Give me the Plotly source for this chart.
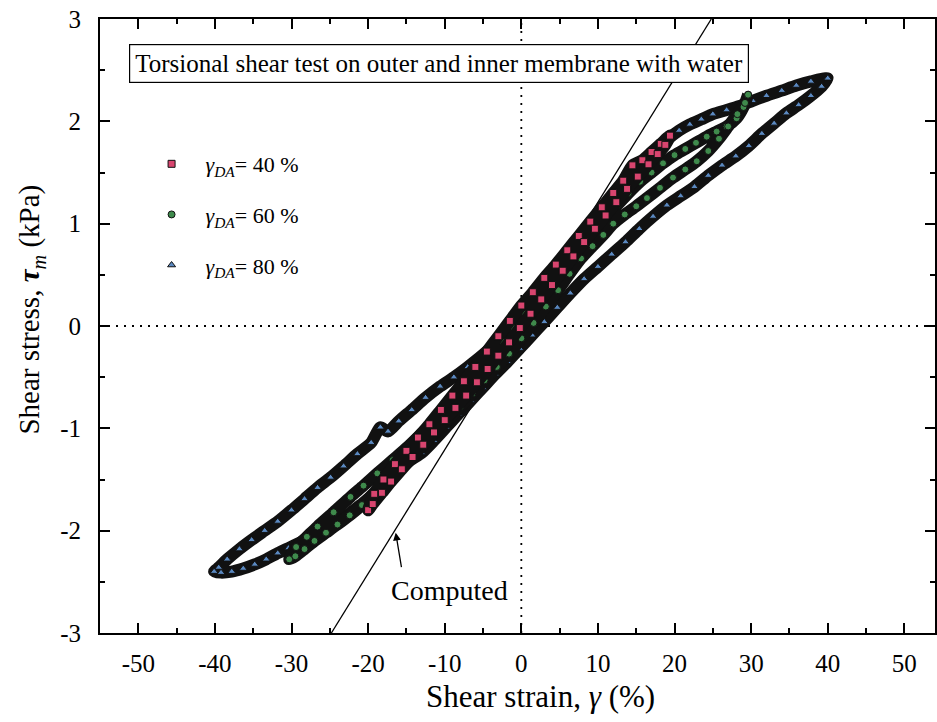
import plotly.graph_objects as go

# ---------------- data ----------------
strain_80 = [40.0, 37.8, 35.9, 34.0, 32.0, 30.2, 28.5, 26.8, 25.0, 23.5, 22.0, 20.6, 19.2, 17.6, 16.0, 14.5,
             12.8, 11.0, 9.2, 7.4, 5.6, 3.8, 2.0, 0.3, -1.4, -3.2, -5.0, -7.0, -8.8, -10.6, -12.5, -14.3,
             -16.0, -17.4, -18.4, -19.6, -21.4, -23.2, -24.9, -26.6, -28.3, -30.0, -31.8, -33.5, -35.2,
             -36.8, -38.4, -39.5, -40.1,
             -39.2, -37.8, -36.3, -34.8, -33.3, -31.8, -30.4, -29.0, -27.4, -25.8, -24.2, -22.6, -21.0,
             -19.4, -17.8, -16.2, -14.6, -13.0, -11.4, -9.8, -8.2, -6.6, -5.0, -3.4, -1.8, -0.2, 1.4, 3.0,
             4.7, 6.4, 8.2, 10.0, 11.8, 13.6, 15.4, 17.2, 19.0, 20.8, 22.6, 24.4, 26.2, 28.0, 29.7, 31.4,
             33.0, 34.6, 36.2, 37.8, 39.2, 40.0]
stress_80 = [2.42, 2.39, 2.35, 2.30, 2.25, 2.20, 2.15, 2.11, 2.07, 2.02, 1.97, 1.91, 1.83, 1.72, 1.60, 1.47,
             1.30, 1.12, 0.95, 0.77, 0.59, 0.42, 0.26, 0.12, -0.03, -0.16, -0.28, -0.40, -0.50, -0.59, -0.70,
             -0.82, -0.93, -1.03, -0.99, -1.14, -1.25, -1.37, -1.48, -1.58, -1.69, -1.80, -1.91, -2.00, -2.09,
             -2.18, -2.28, -2.36, -2.40,
             -2.41, -2.40, -2.37, -2.33, -2.28, -2.22, -2.17, -2.12, -2.06, -1.99, -1.92, -1.84, -1.75,
             -1.65, -1.55, -1.43, -1.32, -1.24, -1.12, -0.99, -0.86, -0.73, -0.60, -0.47, -0.35, -0.22, -0.09,
             0.04, 0.18, 0.32, 0.46, 0.58, 0.70, 0.82, 0.95, 1.07, 1.18, 1.27, 1.36, 1.47, 1.57, 1.66, 1.76,
             1.88, 1.98, 2.08, 2.16, 2.25, 2.34, 2.42]

strain_60 = [29.6, 29.0, 28.1, 26.8, 25.5, 24.2, 22.8, 21.4, 20.0, 18.5, 17.0, 15.5, 14.0, 12.5, 11.0, 9.5,
             8.0, 6.5, 5.0, 3.5, 2.0, 0.5, -1.0, -2.5, -4.0, -5.5, -7.0, -8.8, -10.5, -12.6, -14.8, -16.8,
             -18.8, -20.6, -22.3, -24.5, -26.6, -28.0, -29.4, -30.3,
             -29.5, -28.3, -27.0, -25.5, -24.0, -22.4, -20.8, -19.2, -17.6, -16.0, -14.4, -12.8, -11.2,
             -9.6, -8.0, -6.4, -4.8, -3.2, -1.6, 0.0, 1.6, 3.2, 4.8, 6.3, 7.8, 9.3, 10.7, 12.0, 13.5, 15.0,
             16.4, 18.1, 19.8, 21.4, 22.9, 24.4, 25.8, 27.0, 28.2, 29.2, 29.6]
stress_60 = [2.26, 2.14, 2.03, 1.95, 1.90, 1.85, 1.79, 1.73, 1.67, 1.59, 1.50, 1.41, 1.30, 1.18, 1.06, 0.94,
             0.82, 0.69, 0.55, 0.41, 0.27, 0.12, -0.02, -0.15, -0.28, -0.41, -0.55, -0.72, -0.87, -1.02, -1.18,
             -1.31, -1.44, -1.56, -1.67, -1.82, -1.96, -2.06, -2.16, -2.28,
             -2.25, -2.18, -2.10, -2.02, -1.94, -1.85, -1.75, -1.63, -1.52, -1.40, -1.28, -1.16, -1.04,
             -0.92, -0.79, -0.66, -0.53, -0.40, -0.27, -0.12, 0.03, 0.19, 0.35, 0.51, 0.66, 0.78, 0.89, 1.00,
             1.09, 1.17, 1.25, 1.35, 1.45, 1.53, 1.61, 1.71, 1.83, 1.95, 2.07, 2.18, 2.26]

strain_40 = [19.4, 18.2, 17.0, 15.8, 14.5, 13.3, 12.0, 10.5, 9.0, 7.5, 6.0, 4.5, 3.0, 1.5, 0.0, -1.5, -3.0,
             -4.5, -6.0, -7.5, -9.0, -10.5, -12.0, -13.5, -15.0, -16.5, -18.0, -19.2, -20.0,
             -19.4, -18.2, -17.0, -15.6, -14.2, -12.8, -11.4, -10.0, -8.6, -7.2, -5.8, -4.4, -3.0, -1.6,
             -0.2, 1.2, 2.6, 4.0, 5.4, 6.8, 8.2, 9.6, 11.0, 12.4, 13.8, 15.2, 16.6, 17.8, 18.8, 19.4]
stress_40 = [1.86, 1.78, 1.70, 1.62, 1.57, 1.42, 1.30, 1.16, 1.02, 0.88, 0.74, 0.60, 0.47, 0.33, 0.20, 0.05,
             -0.10, -0.25, -0.40, -0.54, -0.68, -0.82, -0.96, -1.09, -1.22, -1.35, -1.50, -1.64, -1.80,
             -1.74, -1.63, -1.52, -1.40, -1.28, -1.16, -1.04, -0.92, -0.80, -0.68, -0.55, -0.42, -0.29, -0.16,
             -0.02, 0.12, 0.26, 0.40, 0.54, 0.68, 0.82, 0.95, 1.08, 1.21, 1.34, 1.46, 1.58, 1.68, 1.77, 1.86]

computed_strain = [-24.8, 24.8]
computed_stress = [-3.0, 3.0]

series_names = ["<i>γ</i><sub><i>DA</i></sub>= 40 %",
                "<i>γ</i><sub><i>DA</i></sub>= 60 %",
                "<i>γ</i><sub><i>DA</i></sub>= 80 %"]

x_tick_vals = [-50, -40, -30, -20, -10, 0, 10, 20, 30, 40, 50]
x_tick_text = ["-50", "-40", "-30", "-20", "-10", "0", "10", "20", "30", "40", "50"]
x_minor_vals = [-45, -35, -25, -15, -5, 5, 15, 25, 35, 45]
y_tick_vals = [-3, -2, -1, 0, 1, 2, 3]
y_tick_text = ["-3", "-2", "-1", "0", "1", "2", "3"]
y_minor_vals = [-2.5, -1.5, -0.5, 0.5, 1.5, 2.5]

# ---------------- styles ----------------
FONT = "Liberation Serif, Times New Roman, serif"
styles = {
    80: dict(color="#5a88c0", symbol="triangle-up"),
    60: dict(color="#3f8a4c", symbol="circle"),
    40: dict(color="#d8456f", symbol="square"),
}

fig = go.Figure()

# computed line (under the loops)
fig.add_trace(go.Scatter(x=computed_strain, y=computed_stress, mode="lines",
                         line=dict(color="black", width=1.3), showlegend=False,
                         hoverinfo="skip"))

# zero reference lines
fig.add_shape(type="line", xref="x", yref="paper", x0=0, x1=0, y0=0, y1=1,
              line=dict(color="black", width=1.8, dash="2px,6px"), layer="below")
fig.add_shape(type="line", xref="paper", yref="y", x0=0, x1=1, y0=0, y1=0,
              line=dict(color="black", width=1.8, dash="2px,6px"), layer="below")

data = [(80, strain_80, stress_80, series_names[2], 3),
        (60, strain_60, stress_60, series_names[1], 2),
        (40, strain_40, stress_40, series_names[0], 1)]

for key, xs, ys, name, rank in data:
    st = styles[key]
    fig.add_trace(go.Scatter(x=xs, y=ys, mode="lines", legendgroup="g%d" % key,
                             line=dict(color="#111111", width=12, shape="spline", smoothing=0.6),
                             showlegend=False, hoverinfo="skip"))
    fig.add_trace(go.Scatter(x=xs, y=ys, mode="markers", name=name, legendrank=rank,
                             legendgroup="g%d" % key,
                             marker=dict(color=st["color"], symbol=st["symbol"], size=7,
                                         line=dict(color="#111111", width=1))))

axis_common = dict(showgrid=False, zeroline=False, showline=True, linecolor="black",
                   linewidth=2, mirror="ticks", ticks="inside", ticklen=10, tickwidth=1.6,
                   tickcolor="black", tickfont=dict(family=FONT, size=25, color="black"))

fig.update_xaxes(range=[-55, 54.0], tickmode="array", tickvals=x_tick_vals, ticktext=x_tick_text,
                 minor=dict(tickmode="array", tickvals=x_minor_vals, ticks="inside", ticklen=5,
                            tickwidth=1.6, tickcolor="black"),
                 ticklabelstandoff=7, **axis_common)
fig.update_yaxes(range=[-3, 3], tickmode="array", tickvals=y_tick_vals, ticktext=y_tick_text,
                 minor=dict(tickmode="array", tickvals=y_minor_vals, ticks="inside", ticklen=5,
                            tickwidth=1.6, tickcolor="black"),
                 ticklabelstandoff=12, **axis_common)

annotations = [
    dict(text="Torsional shear test on outer and inner membrane with water", xref="paper", yref="paper",
         x=0.406, y=0.928, xanchor="center", yanchor="middle", showarrow=False,
         font=dict(family=FONT, size=25, color="black"), bordercolor="black", borderwidth=1.2,
         borderpad=5, bgcolor="white"),
    dict(text="Computed", xref="paper", yref="paper", x=0.418, y=0.070, xanchor="center",
         yanchor="middle", showarrow=False, font=dict(family=FONT, size=28, color="black")),
    dict(text="", x=-16.4, y=-2.02, xref="x", yref="y", showarrow=True, ax=6, ay=36,
         arrowhead=2, arrowsize=1.2, arrowwidth=1.3, arrowcolor="black"),
    dict(text="Shear strain, <i>γ</i> (%)", xref="paper", yref="paper", x=0.528, y=-0.104,
         xanchor="center", yanchor="middle", showarrow=False,
         font=dict(family=FONT, size=31, color="black")),
    dict(text="Shear stress, <b><i>τ</i></b><sub><i>m</i></sub> (kPa)", xref="paper", yref="paper",
         x=-0.082, y=0.526, xanchor="center", yanchor="middle", textangle=-90, showarrow=False,
         font=dict(family=FONT, size=29, color="black")),
]

fig.update_layout(
    width=937, height=722,
    margin=dict(l=100, r=0, t=19, b=89),
    paper_bgcolor="white", plot_bgcolor="white",
    font=dict(family=FONT, color="black"),
    annotations=annotations,
    legend=dict(x=0.045, y=0.798, xanchor="left", yanchor="top", bgcolor="rgba(0,0,0,0)",
                font=dict(family=FONT, size=22, color="black"), itemwidth=58,
                tracegroupgap=19, traceorder="grouped", itemsizing="trace"),
    showlegend=True,
)

fig.write_html("out.html")
